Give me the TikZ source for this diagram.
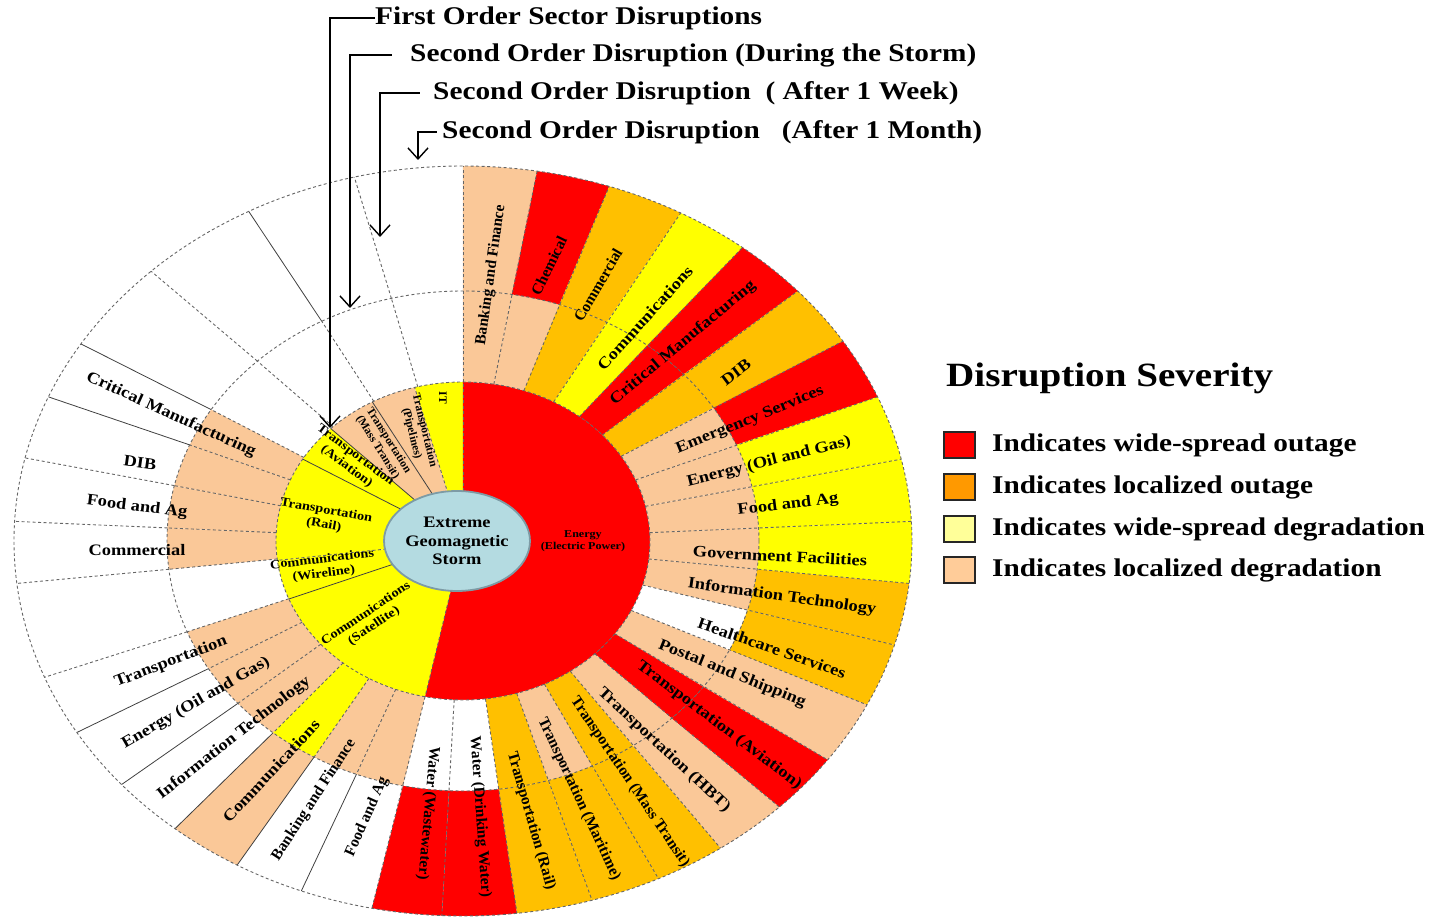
\documentclass[tikz,border=0pt]{standalone}
\usepackage{fontspec}
\setmainfont{Liberation Serif}
\newfontfamily\widefont{Liberation Serif}[FakeStretch=1.15]
\usetikzlibrary{arrows.meta,shapes.geometric}

\definecolor{cRed}{RGB}{255,0,0}
\definecolor{cOrange}{RGB}{255,192,0}
\definecolor{cYellow}{RGB}{255,255,0}
\definecolor{cTan}{RGB}{250,200,152}
\definecolor{keyOrange}{RGB}{255,153,0}
\definecolor{keyYellow}{RGB}{255,255,153}
\definecolor{keyTan}{RGB}{255,204,153}
\definecolor{stormFill}{RGB}{180,219,225}
\definecolor{stormLine}{RGB}{125,155,165}

% ring pieces: colour, start angle, end angle
\newcommand{\pieA}[3]{\fill[#1] (0,0) -- (#2:187 and 159) arc[start angle=#2,end angle=#3,x radius=187,y radius=159] -- cycle;}
\newcommand{\pieB}[3]{\fill[#1] (#2:187 and 159) arc[start angle=#2,end angle=#3,x radius=187,y radius=159] -- (#3:296 and 250) arc[start angle=#3,end angle=#2,x radius=296,y radius=250] -- cycle;}
\newcommand{\pieC}[3]{\fill[#1] (#2:296 and 250) arc[start angle=#2,end angle=#3,x radius=296,y radius=250] -- (#3:449 and 375) arc[start angle=#3,end angle=#2,x radius=449,y radius=375] -- cycle;}

\begin{document}
\begin{tikzpicture}[x=1pt,y=1pt]
	\tikzstyle{ringsep}=[draw=black!60,line width=0.9pt,dash pattern=on 3pt off 2.5pt];
	\tikzstyle{ringrule}=[draw=black!75,line width=0.8pt];
	\tikzstyle{pointer}=[line width=1.4pt,-{Straight Barb[length=11pt,width=20pt,line width=1.4pt]}];
	\tikzstyle{storm}=[ellipse,draw=stormLine,line width=1.8pt,fill=stormFill,minimum width=124,minimum height=100,inner sep=0pt,align=center,font=\widefont\bfseries\fontsize{16}{18.5}\selectfont];
	\tikzstyle{outlbl}=[inner sep=0pt,font=\widefont\bfseries\fontsize{16}{18}\selectfont];
	\tikzstyle{outlbn}=[inner sep=0pt,font=\bfseries\fontsize{15.5}{18}\selectfont];
	\tikzstyle{inlbl}=[inner sep=0pt,align=center,font=\widefont\bfseries\fontsize{12.5}{14.5}\selectfont];
	\tikzstyle{inlbn}=[inner sep=0pt,align=center,font=\bfseries\fontsize{11.5}{13}\selectfont];
	\tikzstyle{powlbl}=[inner sep=0pt,align=center,font=\widefont\bfseries\fontsize{10.5}{12.5}\selectfont];
	\tikzstyle{heading}=[inner sep=0pt,anchor=west,font=\widefont\bfseries\fontsize{25.5}{30}\selectfont];
	\tikzstyle{keyhead}=[inner sep=0pt,anchor=west,font=\widefont\bfseries\fontsize{34}{40}\selectfont];
	\tikzstyle{keytext}=[inner sep=0pt,anchor=west,font=\widefont\bfseries\fontsize{25.5}{30}\selectfont];
	\tikzstyle{keybox}=[draw=black!85,line width=1.5pt,minimum width=31,minimum height=26,inner sep=0pt];

	\useasboundingbox (-463,-379) rectangle (978,541);

	% first order ring
	\foreach \a/\b/\c in {90/105/cYellow,105/119/cTan,119/135/cTan,135/149/cYellow,149/187/cYellow,
		187/201.4/cYellow,201.4/258.3/cYellow,-101.7/90/cRed}
		{\pieA{\c}{\a}{\b}}

	% second order, during the storm
	\foreach \a/\b/\c in {90/80.5/cTan,80.5/71/cTan,71/61/cOrange,61/51.5/cYellow,51.5/41.8/cRed,
		41.8/32.2/cOrange,32.2/22.6/cTan,22.6/12.6/cTan,12.6/3/cTan,3/-6.5/cTan,-6.5/-16.1/cTan,
		-16.1/-25.9/white,-25.9/-35.7/cTan,-35.7/-45.2/cRed,-45.2/-55/cTan,-55/-64.2/cOrange,
		-64.2/-73.3/cTan,-73.3/-83.1/cOrange,-83.1/-92.7/white,-92.7/-101.7/white,
		148.3/157.4/cTan,157.4/167.2/cTan,167.2/177/cTan,177/186.5/cTan,201.3/210.7/cTan,
		210.7/220.5/cTan,220.5/230.1/cTan,230.1/239.8/cYellow,239.8/248.9/cTan,248.9/258.3/cTan}
		{\pieB{\c}{\a}{\b}}

	% second order, after 1 week / 1 month
	\foreach \a/\b/\c in {90/80.5/cTan,80.5/71/cRed,71/61/cOrange,61/51.5/cYellow,51.5/41.8/cRed,
		41.8/32.2/cOrange,32.2/22.6/cRed,22.6/12.6/cYellow,12.6/3/cYellow,3/-6.5/cYellow,
		-6.5/-16.1/cOrange,-16.1/-25.9/cOrange,-25.9/-35.7/cTan,-35.7/-45.2/cRed,-45.2/-55/cTan,
		-55/-64.2/cOrange,-64.2/-73.3/cOrange,-73.3/-83.1/cOrange,-83.1/-92.7/cRed,
		-92.7/-101.7/cRed,230.1/239.8/cTan}
		{\pieC{\c}{\a}{\b}}

	% dividers
	\foreach \t in {90,80.5,71,61,51.5,41.8,32.2,22.6,12.6,3,-6.5,-16.1,-25.9,-35.7,-45.2,-55,-64.2,-73.3,-83.1,-92.7,-101.7}
		\draw[ringsep] (\t:187 and 159) -- (\t:449 and 375);
	\foreach \t in {104,118.5,134,148.3,157.4,167.2,177,186.5,201.3,210.7,220.5,230.1,239.8,248.9}
		\draw[ringsep] (\t:187 and 159) -- (\t:296 and 250);
	\foreach \t in {104,134,167.2,177,186.5,201.3}
		\draw[ringsep] (\t:296 and 250) -- (\t:449 and 375);
	\foreach \t in {118.5,148.3,157.4,210.7,220.5,230.1,239.8,248.9}
		\draw[ringrule] (\t:296 and 250) -- (\t:449 and 375);
	\foreach \t in {90,105,187,258.3}
		\draw[ringsep] (0,0) -- (\t:187 and 159);
	\foreach \t in {119,135,149,201.4}
		\draw[ringrule] (0,0) -- (\t:187 and 159);
	\draw[ringsep] (0,0) ellipse[x radius=187,y radius=159];
	\draw[ringsep] (0,0) ellipse[x radius=296,y radius=250];
	\draw[ringsep] (0,0) ellipse[x radius=449,y radius=375];

	\node[storm] (storm) at (-6,0) {Extreme\\Geomagnetic\\Storm};

	% first order labels
	\node[inlbn,rotate=-90] (it) at (-20,143) {IT};
	\node[inlbn,rotate=-76] (pipe) at (-45,109) {Transportation\\(Pipelines)};
	\node[inlbn,rotate=-58] (mtr) at (-80,97) {Transportation\\(Mass Transit)};
	\node[inlbl,rotate=-37] (air) at (-112,80) {Transportation\\(Aviation)};
	\node[inlbl,rotate=-10] (train) at (-138,23) {Transportation\\(Rail)};
	\node[inlbl,rotate=7] (wire) at (-140,-26) {Communications\\(Wireline)};
	\node[inlbl,rotate=34] (sat) at (-93,-79) {Communications\\(Satellite)};
	\node[powlbl] (power) at (120,0) {Energy\\(Electric Power)};

	% second order labels, right half
	\node[outlbn,rotate=82] (bank) at (28,266) {Banking and Finance};
	\node[outlbn,rotate=64] (chem) at (86,275) {Chemical};
	\node[outlbn,rotate=60] (comm) at (135,256) {Commercial};
	\node[outlbl,rotate=48] (cmns) at (182,223) {Communications};
	\node[outlbl,rotate=40] (crit) at (220,198) {Critical Manufacturing};
	\node[outlbl,rotate=37] (dib) at (273,169) {DIB};
	\node[outlbl,rotate=22] (emer) at (287,121) {Emergency Services};
	\node[outlbl,rotate=14] (oil) at (306,79) {Energy (Oil and Gas)};
	\node[outlbl,rotate=7] (food) at (325,36) {Food and Ag};
	\node[outlbl,rotate=-3] (gov) at (317,-15) {Government Facilities};
	\node[outlbl,rotate=-8] (info) at (319,-56) {Information Technology};
	\node[outlbl,rotate=-19] (health) at (309,-107) {Healthcare Services};
	\node[outlbl,rotate=-22] (post) at (269,-133) {Postal and Shipping};
	\node[outlbl,rotate=-37] (avia) at (256,-184) {Transportation (Aviation)};
	\node[outlbl,rotate=-43] (hbt) at (201,-209) {Transportation (HBT)};
	\node[outlbn,rotate=-56] (mass) at (167,-241) {Transportation (Mass Transit)};
	\node[outlbn,rotate=-65] (mari) at (116,-258) {Transportation (Maritime)};
	\node[outlbn,rotate=-74] (rail) at (68,-280) {Transportation (Rail)};
	\node[outlbn,rotate=-86] (drink) at (17,-276) {Water (Drinking Water)};
	\node[outlbn,rotate=-95] (waste) at (-35,-272) {Water (Wastewater)};

	% second order labels, left half
	\node[outlbn,rotate=66] (foodL) at (-96,-276) {Food and Ag};
	\node[outlbn,rotate=57] (bankL) at (-149,-259) {Banking and Finance};
	\node[outlbl,rotate=47] (cmnsL) at (-192,-230) {Communications};
	\node[outlbl,rotate=38] (infoL) at (-229,-197) {Information Technology};
	\node[outlbl,rotate=30] (oilL) at (-267,-162) {Energy (Oil and Gas)};
	\node[outlbl,rotate=21] (tranL) at (-292,-121) {Transportation};
	\node[outlbl] (commL) at (-326,-9) {Commercial};
	\node[outlbl,rotate=-7] (foodLL) at (-326,34) {Food and Ag};
	\node[outlbl,rotate=-8] (dibL) at (-323,78) {DIB};
	\node[outlbl,rotate=-24.5] (critL) at (-292,126) {Critical Manufacturing};

	% ring headings
	\node[heading] (first) at (-88,523) {First Order Sector Disruptions};
	\node[heading] (during) at (-53,486) {Second Order Disruption (During the Storm)};
	\node[heading] (week) at (-30,448) {Second Order Disruption\ \ ( After 1 Week)};
	\node[heading] (month) at (-21,409) {Second Order Disruption\ \ \ (After 1 Month)};
	\coordinate (tipA) at (-133,113);
	\coordinate (tipB) at (-113,233);
	\coordinate (tipC) at (-83,304);
	\coordinate (tipD) at (-45,381);
	\draw[pointer] (first.west) -| (tipA);
	\draw[pointer] ([xshift=-18pt]during.west) -| (tipB);
	\draw[pointer] ([xshift=-13pt]week.west) -| (tipC);
	\draw[pointer] ([xshift=-5pt]month.west) -| (tipD);

	% legend
	\node[keyhead] (key) at (483,163) {Disruption Severity};
	\foreach \c/\y/\t [count=\i] in {cRed/96/Indicates wide-spread outage,keyOrange/54/Indicates localized outage,
		keyYellow/12/Indicates wide-spread degradation,keyTan/-29/Indicates localized degradation}{
		\node[keybox,fill=\c] (box\i) at (496.5,\y) {};
		\node[keytext] (item\i) at (529,\y) {\t};
	}
\end{tikzpicture}
\end{document}
